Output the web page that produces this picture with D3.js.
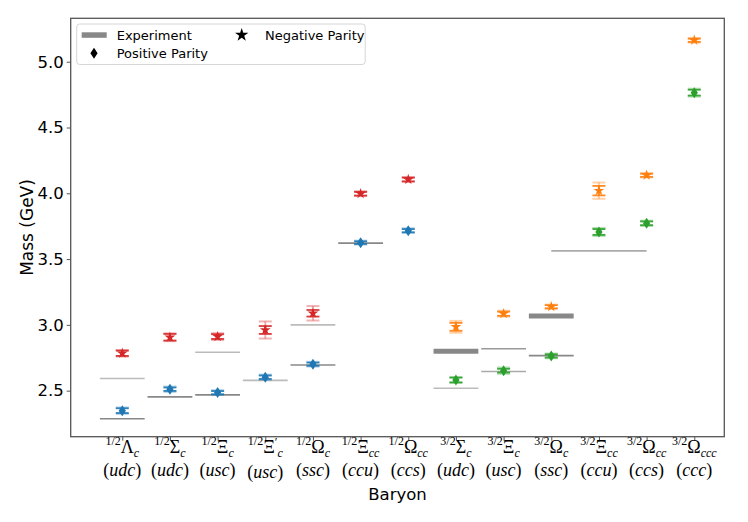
<!DOCTYPE html>
<html><head><meta charset="utf-8">
<script src="https://cdn.jsdelivr.net/npm/d3@7/dist/d3.min.js"></script>
<style>body{margin:0;background:#fff}</style>
</head><body><svg id="c" width="748" height="522"></svg>
<script>
// ---- data ----
const spins   = ["1/2","1/2","1/2","1/2","1/2","1/2","1/2","3/2","3/2","3/2","3/2","3/2","3/2"];
const names   = ["Λ","Σ","Ξ","Ξ′","Ω","Ξ","Ω","Σ","Ξ","Ω","Ξ","Ω","Ω"];
const subs    = ["c","c","c","c","c","cc","cc","c","c","c","cc","cc","ccc"];
const quarks  = ["udc","udc","usc","usc","ssc","ccu","ccs","udc","usc","ssc","ccu","ccs","ccc"];

// positive parity (index = category)
const posIdx  = [0,1,2,3,4,5,6,7,8,9,10,11,12];
const posMass = [2.348,2.511,2.485,2.602,2.701,3.625,3.716,2.581,2.652,2.764,3.706,3.772,4.765];
const posErr  = [0.018,0.013,0.012,0.013,0.012,0.010,0.012,0.018,0.014,0.012,0.022,0.014,0.022];
const posErr2 = [0.024,0.020,0.018,0.020,0.018,0.015,0.018,0.022,0.024,0.018,0.030,0.020,0.030];
// negative parity
const negIdx  = [0,1,2,3,4,5,6,7,8,9,10,11,12];
const negMass = [2.784,2.906,2.911,2.961,3.088,3.997,4.105,2.985,3.085,3.138,4.020,4.137,5.163];
const negErr  = [0.020,0.025,0.018,0.030,0.025,0.014,0.014,0.030,0.016,0.012,0.036,0.012,0.012];
const negErr2 = [0.025,0.030,0.026,0.065,0.055,0.018,0.018,0.045,0.022,0.016,0.062,0.016,0.018];

// experiment
const expIdx  = [0,0,1,2,2,3,4,4,5,7,7,8,8,9,9,10];
const expMass = [2.286,2.592,2.453,2.468,2.792,2.578,2.695,3.000,3.621,2.518,2.800,2.646,2.818,2.766,3.068,3.562];

const yTicks = [2.5,3.0,3.5,4.0,4.5,5.0];

// ---- styles (not data) ----
const expStyle = [
 {c:"#888",w:1.6},{c:"#bbb",w:1.6},{c:"#888",w:1.6},{c:"#888",w:1.6},{c:"#bbb",w:1.6},
 {c:"#bbb",w:1.6},{c:"#888",w:1.6},{c:"#bbb",w:1.6},{c:"#888",w:1.6},
 {c:"#bbb",w:1.6},{c:"#888",w:5},{c:"#aaa",w:1.6},{c:"#999",w:1.4},
 {c:"#888",w:1.6},{c:"#888",w:5},{c:"#aaa",w:1.6}];
const expHalf = i => (i===15 ? 1.0 : 0.47);

const svg = d3.select("#c");
const L=70.7,R=724.3,T=18.3,B=436.7;
const x = d3.scaleLinear().domain([-1.082,12.63]).range([L,R]);
const y = d3.scaleLinear().domain([2.15,5.33]).range([B,T]);

// experiment lines
expIdx.forEach((ix,k)=>{
  svg.append("line")
    .attr("x1",x(ix-expHalf(k))).attr("x2",x(ix+expHalf(k)))
    .attr("y1",y(expMass[k])).attr("y2",y(expMass[k]))
    .attr("stroke",expStyle[k].c).attr("stroke-width",expStyle[k].w);
});

const blue="#1f77b4",red="#d62728",green="#2ca02c",orange="#ff7f0e";
const diamondPath = (cx,cy)=>`M${cx},${cy-5.5}L${cx+3.6},${cy}L${cx},${cy+5.5}L${cx-3.6},${cy}Z`;
const star = d3.symbol().type(d3.symbolStar).size(36);

function errbar(cx,cy,e,col,op,w){
  const g=svg.append("g").attr("stroke",col).attr("stroke-opacity",op).attr("stroke-width",w);
  g.append("line").attr("x1",cx).attr("x2",cx).attr("y1",y(cy-e)).attr("y2",y(cy+e));
  [cy-e,cy+e].forEach(v=>g.append("line").attr("x1",cx-6.5).attr("x2",cx+6.5).attr("y1",y(v)).attr("y2",y(v)));
}

function drawSeries(idx,mass,err,err2,isPos){
  idx.forEach((ix,k)=>{
    const col = ix<7 ? (isPos?blue:red) : (isPos?green:orange);
    const cx=x(ix), m=mass[k];
    errbar(cx,m,err2[k],col,0.35,2);
    errbar(cx,m,err[k],col,0.9,1.8);
    if(isPos){
      svg.append("path").attr("d",diamondPath(cx,y(m))).attr("fill",col);
    } else {
      svg.append("path").attr("d",star()).attr("transform",`translate(${cx},${y(m)})`).attr("fill",col);
    }
  });
}
drawSeries(posIdx,posMass,posErr,posErr2,true);
drawSeries(negIdx,negMass,negErr,negErr2,false);

// frame
svg.append("rect").attr("x",L).attr("y",T).attr("width",R-L).attr("height",B-T)
  .attr("fill","none").attr("stroke","#555").attr("stroke-width",1.3);

// y axis
const ya = svg.append("g").attr("transform",`translate(${L},0)`)
  .call(d3.axisLeft(y).tickValues(yTicks).tickFormat(d3.format(".1f")).tickSize(4).tickPadding(3));
ya.select(".domain").remove();
ya.selectAll("line").attr("stroke","#555");
ya.selectAll("text").attr("font-family","DejaVu Sans").attr("font-size",16.5).attr("fill","#000");

// x axis ticks
const xa = svg.append("g").attr("transform",`translate(0,${B})`)
  .call(d3.axisBottom(x).tickValues(posIdx).tickFormat("").tickSize(4));
xa.select(".domain").remove();
xa.selectAll("line").attr("stroke","#555");

// x tick labels
const lab = svg.append("g").attr("font-family","Liberation Serif, DejaVu Serif, serif");
posIdx.forEach(i=>{
  const t = lab.append("text").attr("x",x(i)).attr("y",453).attr("text-anchor","middle");
  t.append("tspan").attr("font-size",12).attr("dy",-8).text(spins[i]);
  const prime = names[i].endsWith("′");
  t.append("tspan").attr("font-size",18).attr("dy",8).text(prime?names[i].slice(0,-1):names[i]);
  if(prime){
    t.append("tspan").attr("font-size",12).attr("dy",-7).text("′");
    t.append("tspan").attr("font-size",12).attr("font-style","italic").attr("dy",11).text(subs[i]);
  } else {
    t.append("tspan").attr("font-size",12).attr("font-style","italic").attr("dy",4).text(subs[i]);
  }
  const t2 = lab.append("text").attr("x",x(i)).attr("y",prime?478:476).attr("text-anchor","middle").attr("font-size",18);
  t2.append("tspan").text("(");
  t2.append("tspan").attr("font-style","italic").text(quarks[i]);
  t2.append("tspan").text(")");
});

// axis titles
svg.append("text").attr("x",(L+R)/2).attr("y",500).attr("text-anchor","middle")
  .attr("font-family","DejaVu Sans").attr("font-size",16.5).text("Baryon");
svg.append("text").attr("transform",`translate(33,${(T+B)/2}) rotate(-90)`).attr("text-anchor","middle")
  .attr("font-family","DejaVu Sans").attr("font-size",17).text("Mass (GeV)");

// legend
const lg = svg.append("g").attr("font-family","DejaVu Sans").attr("font-size",13);
lg.append("rect").attr("x",76.7).attr("y",24).attr("width",288.5).attr("height",40.5).attr("rx",3)
  .attr("fill","#fff").attr("fill-opacity",0.8).attr("stroke","#d6d6d6");
lg.append("rect").attr("x",81.7).attr("y",32.3).attr("width",25).attr("height",5.5).attr("fill","#888");
lg.append("text").attr("x",116.7).attr("y",39.5).text("Experiment");
lg.append("path").attr("d",d3.symbol().type(d3.symbolStar).size(55)()).attr("transform","translate(241.7,35)").attr("fill","#000");
lg.append("text").attr("x",265).attr("y",39.5).text("Negative Parity");
lg.append("path").attr("d",diamondPath(94,53.3)).attr("fill","#000");
lg.append("text").attr("x",116.7).attr("y",58).text("Positive Parity");
</script></body></html>
